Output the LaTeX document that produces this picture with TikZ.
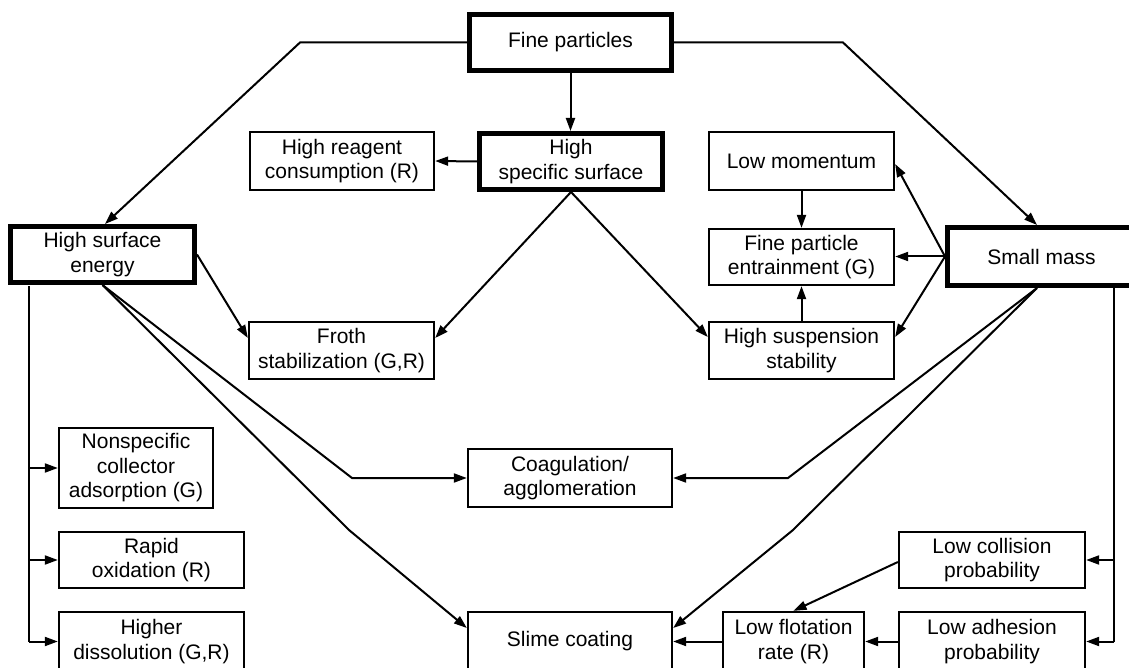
\documentclass[tikz,border=0pt]{standalone}
\usepackage{fontspec}
\setmainfont{Liberation Sans}
\usetikzlibrary{arrows.meta}
\tikzset{
  box/.style={draw, line width=2.3pt, align=center, inner sep=0pt,
    font=\fontsize{21}{24.5}\selectfont},
  thick box/.style={box, line width=5pt},
  arr/.style={line width=2pt, -{Triangle[length=13pt,width=9pt]}},
  ln/.style={line width=2pt},
}
\begin{document}
\begin{tikzpicture}[x=1pt,y=-1pt]
\useasboundingbox[fill=white] (0,0) rectangle (1129,668);
% nodes
\node[thick box, minimum width=202pt, minimum height=56pt] (fp) at (570.5,42.5) {Fine particles};
\node[thick box, minimum width=183pt, minimum height=56pt] (hss) at (571,161.5) {High\\specific surface};
\node[box, minimum width=184pt, minimum height=58pt] (hrc) at (342,161) {High reagent\\consumption (R)};
\node[thick box, minimum width=184pt, minimum height=56pt] (hse) at (102.5,254.5) {High surface\\energy};
\node[box, minimum width=185pt, minimum height=57pt] (froth) at (341.5,350.5) {Froth\\stabilization (G,R)};
\node[box, minimum width=185pt, minimum height=58pt] (lm) at (801.5,161) {Low momentum};
\node[box, minimum width=185pt, minimum height=56pt] (fpe) at (801.5,257) {Fine particle\\entrainment (G)};
\node[box, minimum width=185pt, minimum height=57pt] (hsusp) at (801.5,350.5) {High suspension\\stability};
\node[thick box, minimum width=188pt, minimum height=58pt] (sm) at (1041.5,256.5) {Small mass};
\node[box, minimum width=154pt, minimum height=80pt] (ns) at (136,468) {Nonspecific\\collector\\adsorption (G)};
\node[box, minimum width=185pt, minimum height=56pt] (ro) at (151.5,560) {Rapid\\oxidation (R)};
\node[box, minimum width=185pt, minimum height=59pt] (hd) at (151.5,641.5) {Higher\\dissolution (G,R)};
\node[box, minimum width=204pt, minimum height=58pt] (coag) at (570,478) {Coagulation/\\agglomeration};
\node[box, minimum width=204pt, minimum height=59pt] (slime) at (570,641.5) {Slime coating};
\node[box, minimum width=141pt, minimum height=59pt] (lfr) at (793.5,641.5) {Low flotation\\rate (R)};
\node[box, minimum width=186pt, minimum height=56pt] (lcp) at (992,560) {Low collision\\probability};
\node[box, minimum width=186pt, minimum height=59pt] (lap) at (992,641.5) {Low adhesion\\probability};
% bend coordinates
\coordinate (b1) at (300,42.5);
\coordinate (b2) at (843,42.5);
\coordinate (b3) at (352,478);
\coordinate (b4) at (349,530);
\coordinate (b5) at (788,478);
\coordinate (b6) at (793,530);
\coordinate (lt) at (29,286);
\coordinate (rt) at (1114,287);
% connectors from Fine particles
\draw[arr] (fp.west) -- (b1) -- (hse.north -| 105,0);
\draw[arr] (fp.east) -- (b2) -- (sm.north -| 1037,0);
\draw[arr] (fp.south) -- (fp.south |- hss.north);
% High specific surface
\draw[arr] (hss.west) -- (hrc.east);
\draw[arr] (hss.south) -- (froth.east |- 0,338);
\draw[arr] (hss.south) -- (hsusp.west |- 0,337);
% High surface energy
\draw[arr] (hse.east) -- (froth.west |- 0,338);
\draw[arr] (hse.south) -- (b3) -- (coag.west);
\draw[arr] (hse.south) -- (b4) -- (slime.west |- 0,628);
\draw[ln] (lt) -- (lt |- hd.west);
\draw[arr] (lt |- ns.west) -- (ns.west);
\draw[arr] (lt |- ro.west) -- (ro.west);
\draw[arr] (lt |- hd.west) -- (hd.west);
% Small mass
\draw[arr] (sm.west) -- (lm.east |- 0,164);
\draw[arr] (sm.west) -- (fpe.east |- sm.west);
\draw[arr] (sm.west) -- (hsusp.east |- 0,337);
\draw[arr] (lm.south) -- (fpe.north);
\draw[arr] (hsusp.north) -- (fpe.south);
\draw[arr] (sm.south -| 1037,0) -- (b5) -- (coag.east);
\draw[arr] (sm.south -| 1037,0) -- (b6) -- (slime.east |- 0,628);
\draw[ln] (rt) -- (rt |- lap.east);
\draw[arr] (rt |- lcp.east) -- (lcp.east);
\draw[arr] (rt |- lap.east) -- (lap.east);
% bottom chain
\draw[arr] (lcp.west |- 0,562) -- (lfr.north);
\draw[arr] (lap.west) -- (lfr.east);
\draw[arr] (lfr.west) -- (slime.east);
\end{tikzpicture}
\end{document}
